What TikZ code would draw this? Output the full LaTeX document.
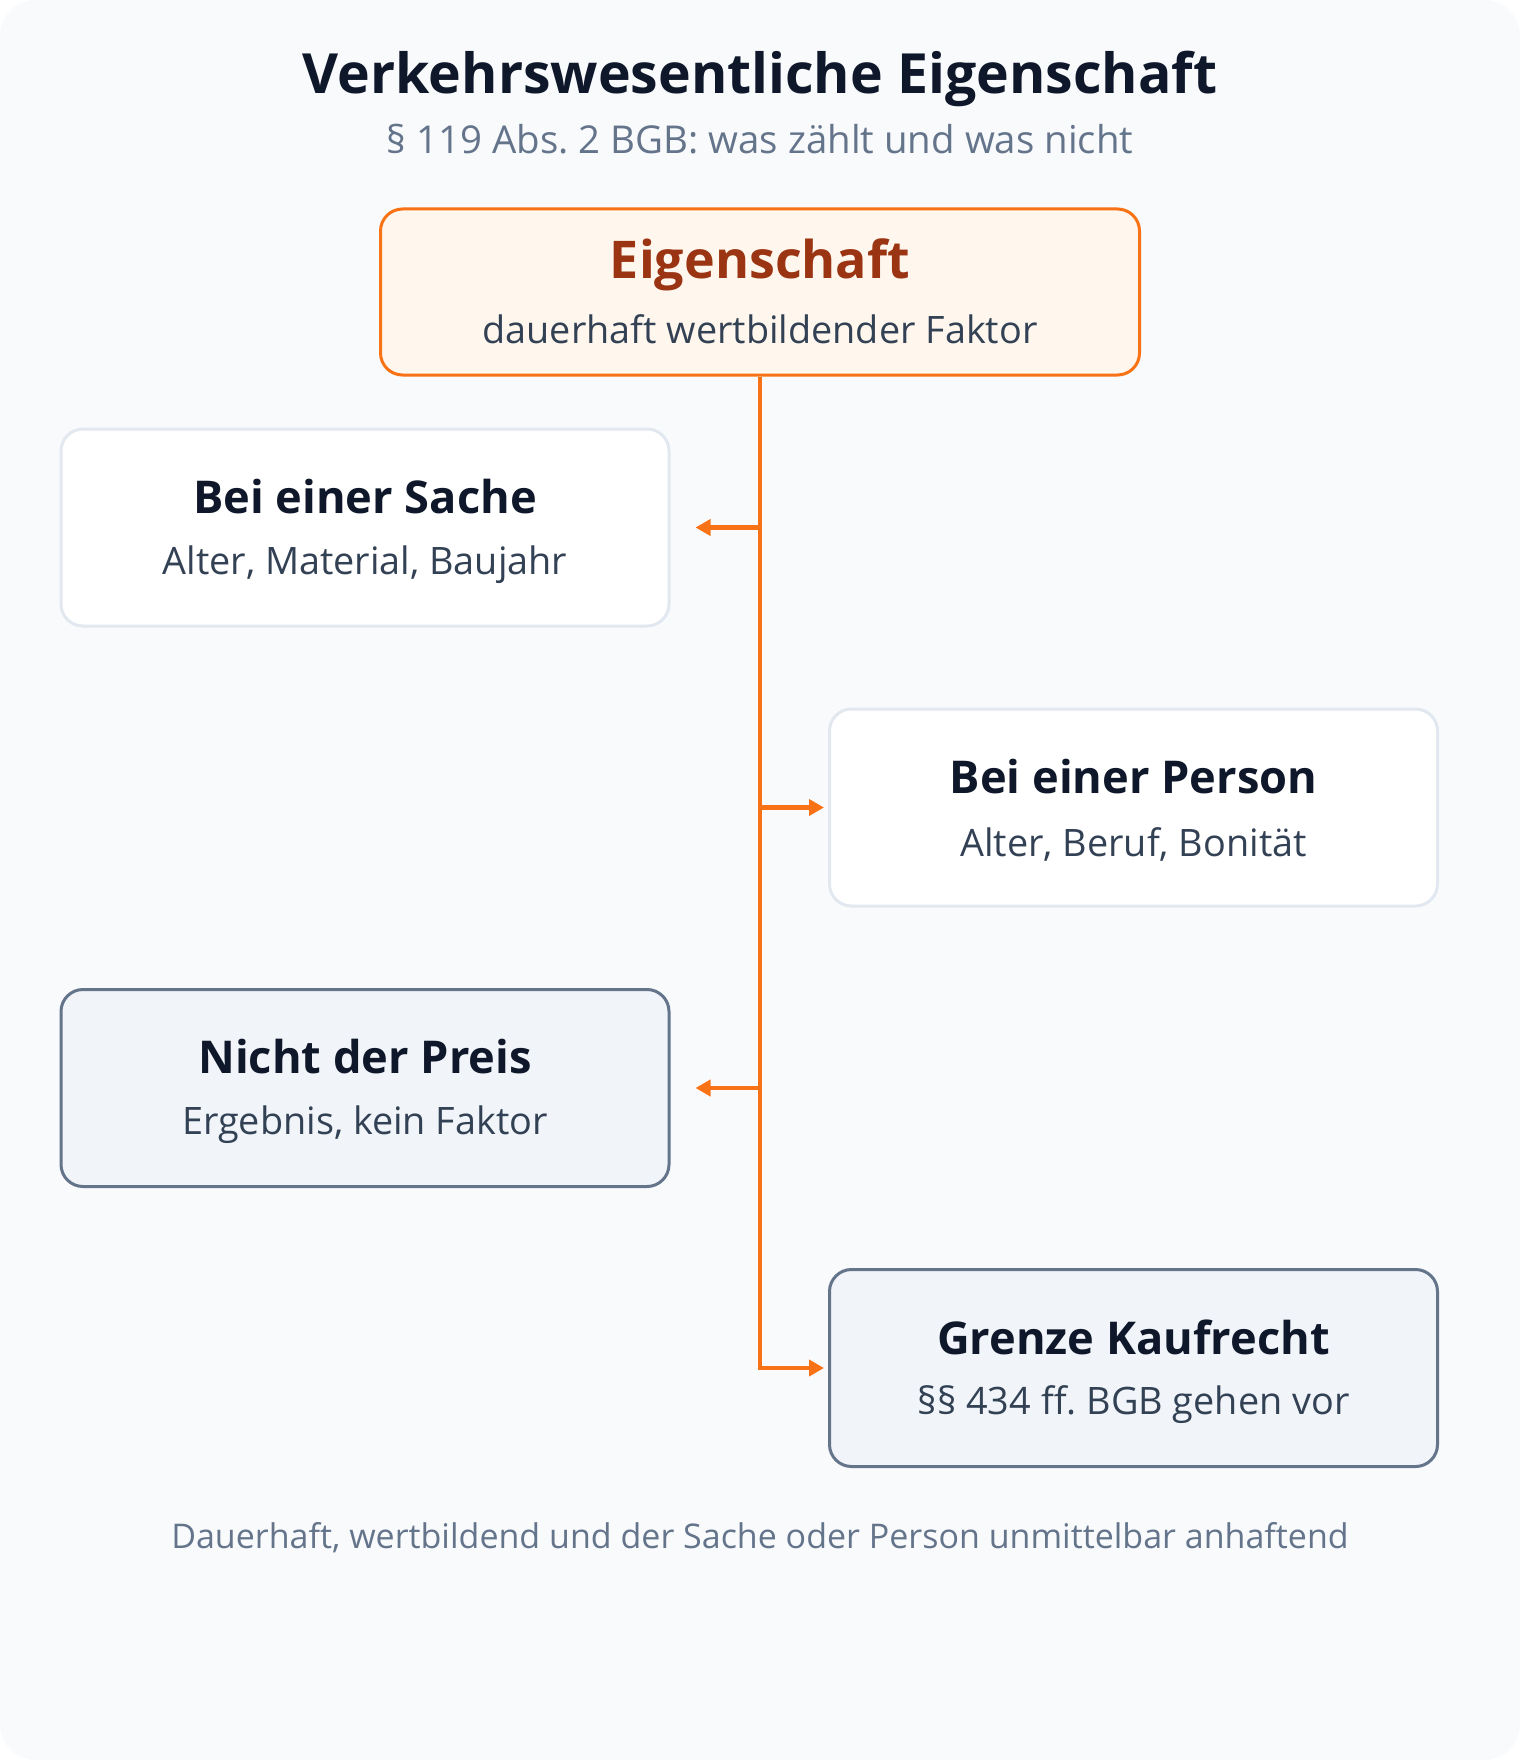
\documentclass[tikz,border=0pt]{standalone}
\usepackage{fontspec}
\setmainfont{Open Sans}
\usetikzlibrary{arrows.meta}
\usetikzlibrary{calc}
\usetikzlibrary{positioning}
\frenchspacing
\definecolor{bgpage}{HTML}{F8FAFC}
\definecolor{ink}{HTML}{0F172A}
\definecolor{muted}{HTML}{64748B}
\definecolor{slatetext}{HTML}{334155}
\definecolor{accent}{HTML}{F97316}
\definecolor{accentfill}{HTML}{FFF7ED}
\definecolor{accentink}{HTML}{9A3412}
\definecolor{boxline}{HTML}{E2E8F0}
\definecolor{greyfill}{HTML}{F1F5F9}
\definecolor{greyline}{HTML}{64748B}

\begin{document}
\begin{tikzpicture}[x=0.5pt,y=-0.5pt,
  box/.style={draw=boxline, fill=white, line width=1.5pt, rounded corners=11pt, minimum width=304pt, minimum height=98.5pt, inner sep=0pt},
  greybox/.style={box, draw=greyline, fill=greyfill},
  head/.style={font=\bfseries\fontsize{22.6}{26}\selectfont, text=ink},
  sub/.style={font=\fontsize{18.9}{22}\selectfont, text=slatetext},
  conn/.style={draw=accent, line width=2.25pt},
  >={Triangle[length=7.5pt,width=8pt]}]

% page
\fill[white] (0,0) rectangle (1520,1760);
\fill[bgpage, rounded corners=18pt] (0,0) rectangle (1520,1760);
\useasboundingbox (0,0) rectangle (1520,1760);

\node[font=\bfseries\fontsize{27.7}{32}\selectfont, text=ink] (title) at (760,79) {Verkehrswesentliche Eigenschaft};
\node[font=\fontsize{19.2}{22}\selectfont, text=muted] (subtitle) at (760,139) {§ 119 Abs. 2 BGB: was zählt und was nicht};

% top box
\node[box, draw=accent, fill=accentfill, minimum width=379.5pt, minimum height=83pt] (top) at (760,292) {};
\node[font=\bfseries\fontsize{26}{30}\selectfont, text=accentink] (topT) at ($(top.center)+(0,-27)$) {Eigenschaft};
\node[sub] (topS) at ($(top.center)+(0,37)$) {dauerhaft wertbildender Faktor};

% branches
\node[box] (sache) at (365,527.5) {};
\node[head] (sacheT) at ($(sache.center)+(0,-31)$) {Bei einer Sache};
\node[sub] (sacheS) at ($(sache.center)+(0,37)$) {Alter, Material, Baujahr};

\node[box] (person) at (1133.5,807.5) {};
\node[head] (personT) at ($(person.center)+(0,-31)$) {Bei einer Person};
\node[sub] (personS) at ($(person.center)+(0,37)$) {Alter, Beruf, Bonität};

\node[greybox] (preis) at (365,1088) {};
\node[head] (preisT) at ($(preis.center)+(0,-31)$) {Nicht der Preis};
\node[sub] (preisS) at ($(preis.center)+(0,37)$) {Ergebnis, kein Faktor};

\node[greybox] (grenze) at (1133.5,1368) {};
\node[head] (grenzeT) at ($(grenze.center)+(0,-31)$) {Grenze Kaufrecht};
\node[sub] (grenzeS) at ($(grenze.center)+(0,37)$) {§§ 434 ff. BGB gehen vor};

\node[font=\fontsize{17}{20}\selectfont, text=muted] (foot) at (760,1538) {Dauerhaft, wertbildend und der Sache oder Person unmittelbar anhaftend};

% connectors
\coordinate (j1) at (top.south |- sache.east);
\coordinate (j2) at (top.south |- person.west);
\coordinate (j3) at (top.south |- preis.east);
\draw[conn, ->, shorten >=2pt] (top.south) |- (grenze.west);
\draw[conn, ->, shorten >=12.5pt] (j1) -- (sache.east);
\draw[conn, ->, shorten >=2pt] (j2) -- (person.west);
\draw[conn, ->, shorten >=12.5pt] (j3) -- (preis.east);
\end{tikzpicture}
\end{document}
